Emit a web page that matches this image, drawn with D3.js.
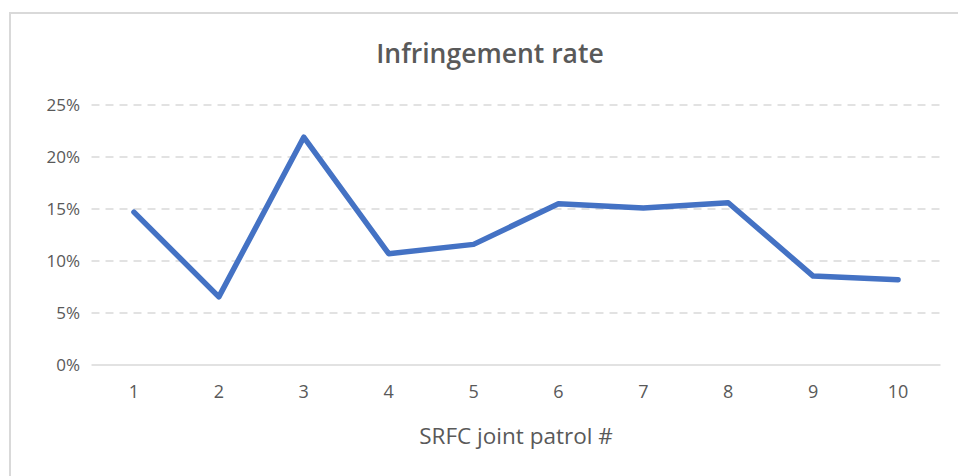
<!DOCTYPE html>
<html>
<head>
<meta charset="utf-8">
<script src="https://cdn.jsdelivr.net/npm/d3@7"></script>
<style>
  html, body { margin: 0; padding: 0; background: #fff; }
  svg { display: block; }
</style>
</head>
<body>
<svg id="chart" width="958" height="476"></svg>
<script>
const categories = ["1","2","3","4","5","6","7","8","9","10"];
const rates = [0.147, 0.0655, 0.219, 0.107, 0.116, 0.155, 0.151, 0.156, 0.0855, 0.082];
const yTicks = [0, 0.05, 0.10, 0.15, 0.20, 0.25];
const titleText = "Infringement rate";
const xTitle = "SRFC joint patrol #";

const svg = d3.select("#chart");
const font = "'Open Sans', 'Noto Sans', sans-serif";
const textColor = "#595959";

// chart border
svg.append("rect")
  .attr("x", 10).attr("y", 13)
  .attr("width", 980).attr("height", 500)
  .attr("fill", "#fff").attr("stroke", "#d9d9d9").attr("stroke-width", 2);

const plot = { left: 91.5, right: 940.5, top: 105, bottom: 365 };

const x = d3.scaleBand().domain(categories).range([plot.left, plot.right]).padding(0);
const y = d3.scaleLinear().domain([0, 0.25]).range([plot.bottom, plot.top]);

// gridlines
svg.append("g").selectAll("line")
  .data(yTicks.filter(d => d > 0))
  .join("line")
  .attr("x1", plot.left).attr("x2", plot.right)
  .attr("y1", d => y(d)).attr("y2", d => y(d))
  .attr("stroke", "#d9d9d9").attr("stroke-width", 1.5)
  .attr("stroke-dasharray", "8,6");

// x axis baseline
svg.append("line")
  .attr("x1", plot.left).attr("x2", plot.right)
  .attr("y1", y(0)).attr("y2", y(0))
  .attr("stroke", "#d9d9d9").attr("stroke-width", 1.5);

// y axis
const yAxis = d3.axisLeft(y).tickValues(yTicks).tickFormat(d3.format(".0%")).tickSize(0).tickPadding(0);
const gy = svg.append("g").attr("transform", `translate(80,0)`).call(yAxis);
gy.select(".domain").remove();
gy.selectAll("text").attr("fill", textColor).style("font-family", font).style("font-size", "17px");

// x axis
const xAxis = d3.axisBottom(x).tickSize(0).tickPadding(0);
const gx = svg.append("g").attr("transform", `translate(0,${plot.bottom + 20})`).call(xAxis);
gx.select(".domain").remove();
gx.selectAll("text").attr("fill", textColor).style("font-family", font).style("font-size", "18px");

// line
const line = d3.line()
  .x((d, i) => x(categories[i]) + x.bandwidth() / 2)
  .y(d => y(d));
svg.append("path")
  .datum(rates)
  .attr("d", line)
  .attr("fill", "none")
  .attr("stroke", "#4472c4")
  .attr("stroke-width", 5.5)
  .attr("stroke-linejoin", "round")
  .attr("stroke-linecap", "round");

// title
svg.append("text")
  .attr("x", 490).attr("y", 63)
  .attr("text-anchor", "middle")
  .attr("fill", textColor)
  .style("font-family", font).style("font-size", "26.5px").style("font-weight", 600)
  .text(titleText);

// x axis title
svg.append("text")
  .attr("x", 516).attr("y", 444)
  .attr("text-anchor", "middle")
  .attr("fill", textColor)
  .style("font-family", font).style("font-size", "22.5px")
  .text(xTitle);
</script>
</body>
</html>
